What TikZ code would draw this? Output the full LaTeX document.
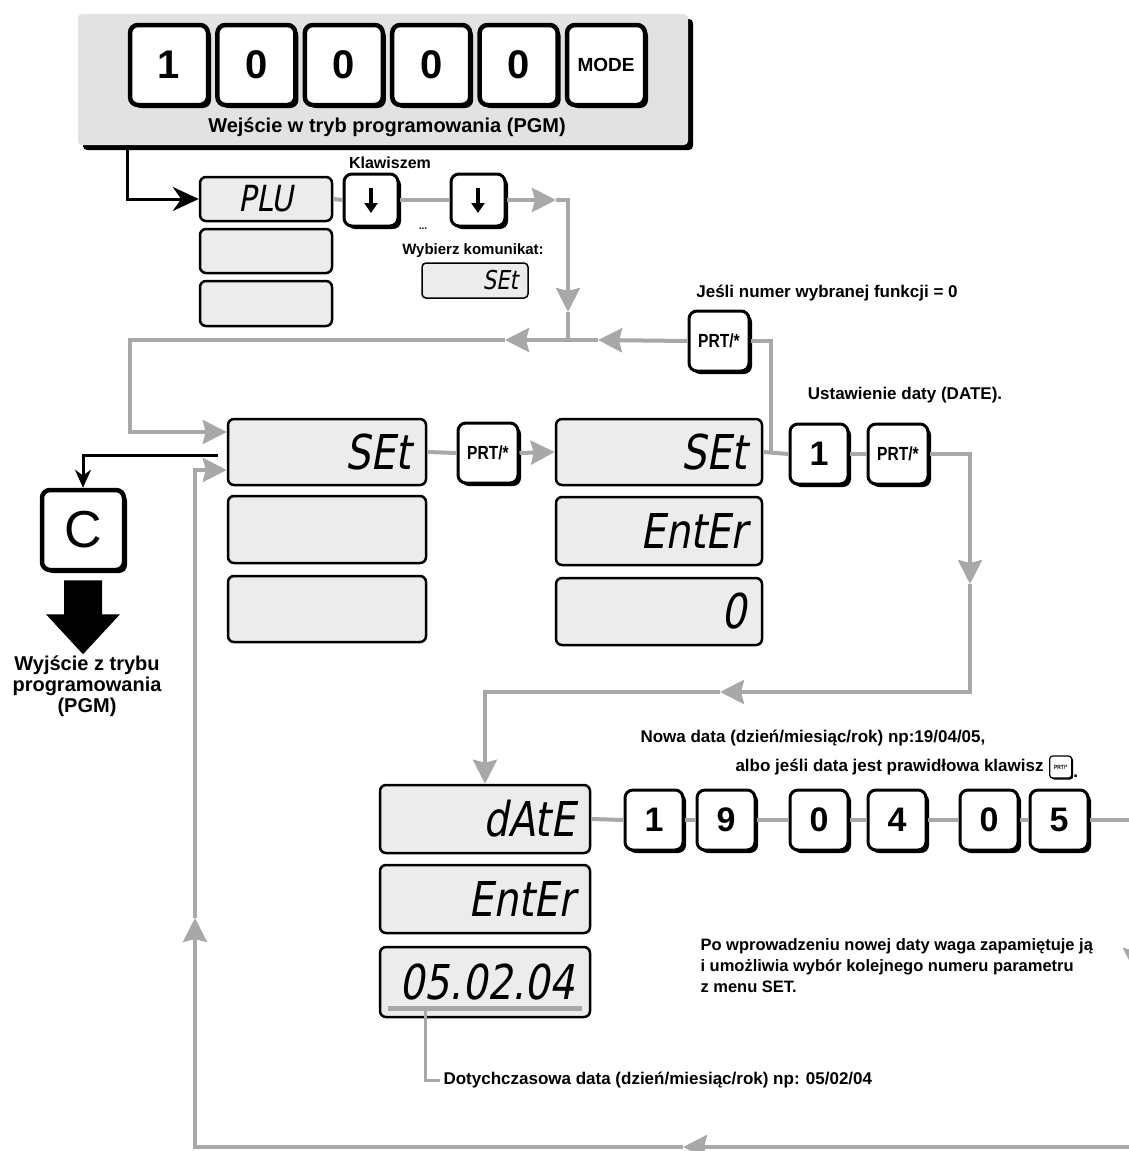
\documentclass[tikz,border=0pt]{standalone}
\usepackage{fontspec}
\setmainfont{Liberation Sans}
\newfontfamily\lcdfont[FakeSlant=0.18,FakeStretch=0.82]{DejaVu Sans}
\usetikzlibrary{arrows.meta, positioning, calc, shadows}
\definecolor{lcdfill}{HTML}{ECECEC}
\definecolor{panel}{HTML}{E2E2E2}
\definecolor{wire}{HTML}{A8A8A8}
\tikzset{
  keycap/.style={draw, line width=3pt, rounded corners=8pt, fill=white, minimum width=58pt, minimum height=60pt, inner sep=0pt,
    font=\bfseries\fontsize{34}{34}\selectfont, drop shadow={shadow xshift=3pt, shadow yshift=-3pt, fill=black, opacity=1}},
  bigkey/.style={keycap, line width=4.5pt, minimum width=78pt, minimum height=80pt, font=\bfseries\fontsize{40}{40}\selectfont},
  prtkey/.style={keycap, minimum width=60pt, font=\bfseries\fontsize{19}{19}\selectfont},
  minikey/.style={draw, line width=1.2pt, rounded corners=3pt, fill=white, minimum width=22pt, minimum height=22pt, inner sep=0pt,
    font=\bfseries\fontsize{6}{6}\selectfont, drop shadow={shadow xshift=1.5pt, shadow yshift=-1.5pt, fill=black, opacity=1}},
  lcd/.style={draw, line width=2.5pt, rounded corners=6pt, fill=lcdfill, inner xsep=15pt, inner ysep=0pt, align=right,
    font=\lcdfont\fontsize{48}{48}\selectfont},
  panelbox/.style={fill=panel, rounded corners=4pt, drop shadow={shadow xshift=5pt, shadow yshift=-5pt, fill=black, opacity=1}},
  flow/.style={draw=wire, line width=4pt},
  tip/.style={-{Stealth[length=24pt, width=24pt, inset=3pt]}},
  lead/.style={draw=wire, line width=3pt},
  exit/.style={draw=black, line width=3pt},
  downmark/.style={line width=3.5pt, -{Triangle[length=10pt, width=13pt]}},
  note/.style={font=\bfseries\fontsize{17}{21}\selectfont},
}
\newcommand{\prt}{\scalebox{0.82}[1]{PRT/*}}

\begin{document}
\begin{tikzpicture}[x=1pt, y=1pt]
  \useasboundingbox (0,0) rectangle (1128,-1151);

  % entry into PGM
  \node[panelbox, minimum width=610pt, minimum height=131pt] (pgm) at (383,-79.5) {};
  \foreach \t [count=\i] in {1,0,0,0,0} {
    \node[bigkey] (hk\i) at ({169+87.4*(\i-1)},-65) {\t};
  }
  \node[bigkey, font=\bfseries\fontsize{19}{19}\selectfont] (hk6) at (606,-65) {MODE};
  \node[note, font=\bfseries\fontsize{20}{20}\selectfont] (hdr) at (387,-127) {Wejście w tryb programowania (PGM)};

  % PLU display and scrolling keys
  \node[lcd, text width=102pt, minimum height=44pt, align=center, font=\lcdfont\fontsize{36}{36}\selectfont] (plu) at (266,-199) {PLU};
  \node[lcd, text width=102pt, minimum height=44pt] (plu2) at (266,-251) {};
  \node[lcd, text width=102pt, minimum height=45pt] (plu3) at (266,-303.5) {};
  \node[keycap, minimum width=54pt, minimum height=52pt] (kd1) at (371,-200) {};
  \node[keycap, minimum width=54pt, minimum height=52pt] (kd2) at (478,-200) {};
  \foreach \k in {kd1, kd2} {
    \draw[downmark] ($(\k.center)+(0,12)$) -- ($(\k.center)+(0,-13)$);
  }
  \node[note, font=\bfseries\fontsize{16}{16}\selectfont] (klaw) at (390,-163) {Klawiszem};
  \node[note, font=\bfseries\fontsize{10}{10}\selectfont] (dots) at (423,-229) {...};
  \node[note, font=\bfseries\fontsize{15}{15}\selectfont] (wyb) at (473,-251) {Wybierz komunikat:};
  \node[lcd, line width=1.5pt, rounded corners=4pt, inner xsep=10pt, text width=86pt, minimum height=35pt,
    font=\lcdfont\fontsize{26}{26}\selectfont] (msg) at (475,-280.5) {SEt};

  \draw[exit, -{Stealth[length=26pt, width=24pt]}] ($(pgm.south west)+(50,0)$) |- (plu.west);
  \draw[flow] (plu.east) -- (kd1.west);
  \draw[flow] (kd1.east) -- (kd2.west);
  \coordinate (jn) at (568,-340);
  \draw[flow, tip] (kd2.east) -- ($(kd2.east -| jn)+(-12,0)$);
  \draw[flow, tip] ($(kd2.east -| jn)+(-12,0)$) -| ($(jn)+(0,28)$);
  \draw[flow] ($(jn)+(0,28)$) -- (jn);

  % SET menu
  \node[lcd, text width=168pt, minimum height=66pt] (set) at (327,-452) {SEt};
  \node[lcd, text width=168pt, minimum height=67pt] (set2b) at (327,-529.5) {};
  \node[lcd, text width=168pt, minimum height=66pt] (set3b) at (327,-609) {};
  \node[prtkey] (ps) at (488,-453) {\prt};
  \node[lcd, text width=176pt, minimum height=66pt] (set2) at (659,-452) {SEt};
  \node[lcd, text width=176pt, minimum height=68pt] (ent) at (659,-531) {EntEr};
  \node[lcd, text width=176pt, minimum height=67pt] (zero) at (659,-611.5) {0};
  \node[prtkey] (prt0) at (719,-341) {\prt};
  \node[keycap] (k1) at (819,-454) {1};
  \node[prtkey] (pk) at (898,-454) {\prt};
  \node[note] (jesli) at (827,-293) {Jeśli numer wybranej funkcji = 0};
  \node[note] (ust) at (905,-395) {Ustawienie daty (DATE).};

  \draw[flow, tip] (prt0.west) -- (598,-340);
  \draw[flow, tip] (598,-340) -- (505,-340);
  \draw[flow, tip] (505,-340) -- (130,-340) |- ($(set.west)+(0,20)$);
  \draw[flow] (set.east) -- (ps.west);
  \draw[flow, tip] (ps.east) -- (set2.west);
  \draw[flow] (set2.east) -- (k1.west);
  \draw[flow] (prt0.east) -| ($(set2.east)+(8,0)$);
  \draw[flow] (k1.east) -- (pk.west);
  \draw[flow, tip] (pk.east) -| (970,-584);
  \draw[flow, tip] (970,-584) |- (720,-692);

  % exit with C
  \node[keycap, line width=4.5pt, minimum width=82pt, minimum height=80pt, font=\fontsize{52}{52}\selectfont] (ckey) at (83,-530) {C};
  \draw[exit, -{Stealth[length=18pt, width=16pt]}] ($(set.west)+(-9,-3)$) -| (ckey.north);
  \fill ($(ckey.south)+(-19,-8)$) -- ++(38,0) -- ++(0,-34) -- ++(18,0) -- ++(-37,-40) -- ++(-37,40) -- ++(18,0) -- cycle;
  \node[note, align=center, font=\bfseries\fontsize{20}{21}\selectfont] (wyj) at (87,-686) {Wyjście z trybu\\programowania\\(PGM)};

  % date entry
  \node[lcd, text width=180pt, minimum height=68pt] (date) at (485,-819) {dAtE};
  \node[lcd, text width=180pt, minimum height=68pt] (dent) at (485,-899) {EntEr};
  \node[lcd, text width=180pt, minimum height=70pt] (dnow) at (485,-982) {05.02.04};
  \draw[wire, line width=5pt] ($(dnow.south west)+(9,10)$) -- ($(dnow.south east)+(-9,10)$);
  \draw[flow, tip] (720,-692) -| (date.north);

  \foreach \t/\x [count=\i] in {1/654, 9/726, 0/819, 4/897, 0/989, 5/1059} {
    \node[keycap] (d\i) at (\x,-820) {\t};
  }
  \draw[flow] (date.east) -- (d1.west);
  \foreach \a/\b in {1/2, 2/3, 3/4, 4/5, 5/6} {
    \draw[flow] (d\a.east) -- (d\b.west);
  }
  \node[note, anchor=west] (nowa) at (637,-738) {Nowa data (dzień/miesiąc/rok) np:19/04/05,};
  \node[note, anchor=west] (albo) at (732,-767) {albo jeśli data jest prawidłowa klawisz};
  \node[minikey, right=2pt of albo] (mk) {\prt};
  \node[note, anchor=south west, inner sep=1pt] (dot) at (mk.south east) {.};
  \node[note, anchor=north west, align=left, font=\bfseries\fontsize{16.5}{21}\selectfont] (po) at (697,-935)
    {Po wprowadzeniu nowej daty waga zapamiętuje ją\\i umożliwia wybór kolejnego numeru parametru\\z menu SET.};
  \node[note, anchor=west] (olddate) at (440,-1080) {Dotychczasowa data (dzień/miesiąc/rok) np: 05/02/04};
  \draw[lead] ($(dnow.south west)+(47,10)$) |- (olddate.west);

  % back to SET
  \draw[flow, tip] (d6.east) -| (1135,-972);
  \draw[flow, tip] (1135,-972) |- (683,-1147);
  \draw[flow, tip] (683,-1147) -| (195,-918);
  \draw[flow, tip] (195,-918) |- ($(set.west)+(0,-18)$);
\end{tikzpicture}
\end{document}
